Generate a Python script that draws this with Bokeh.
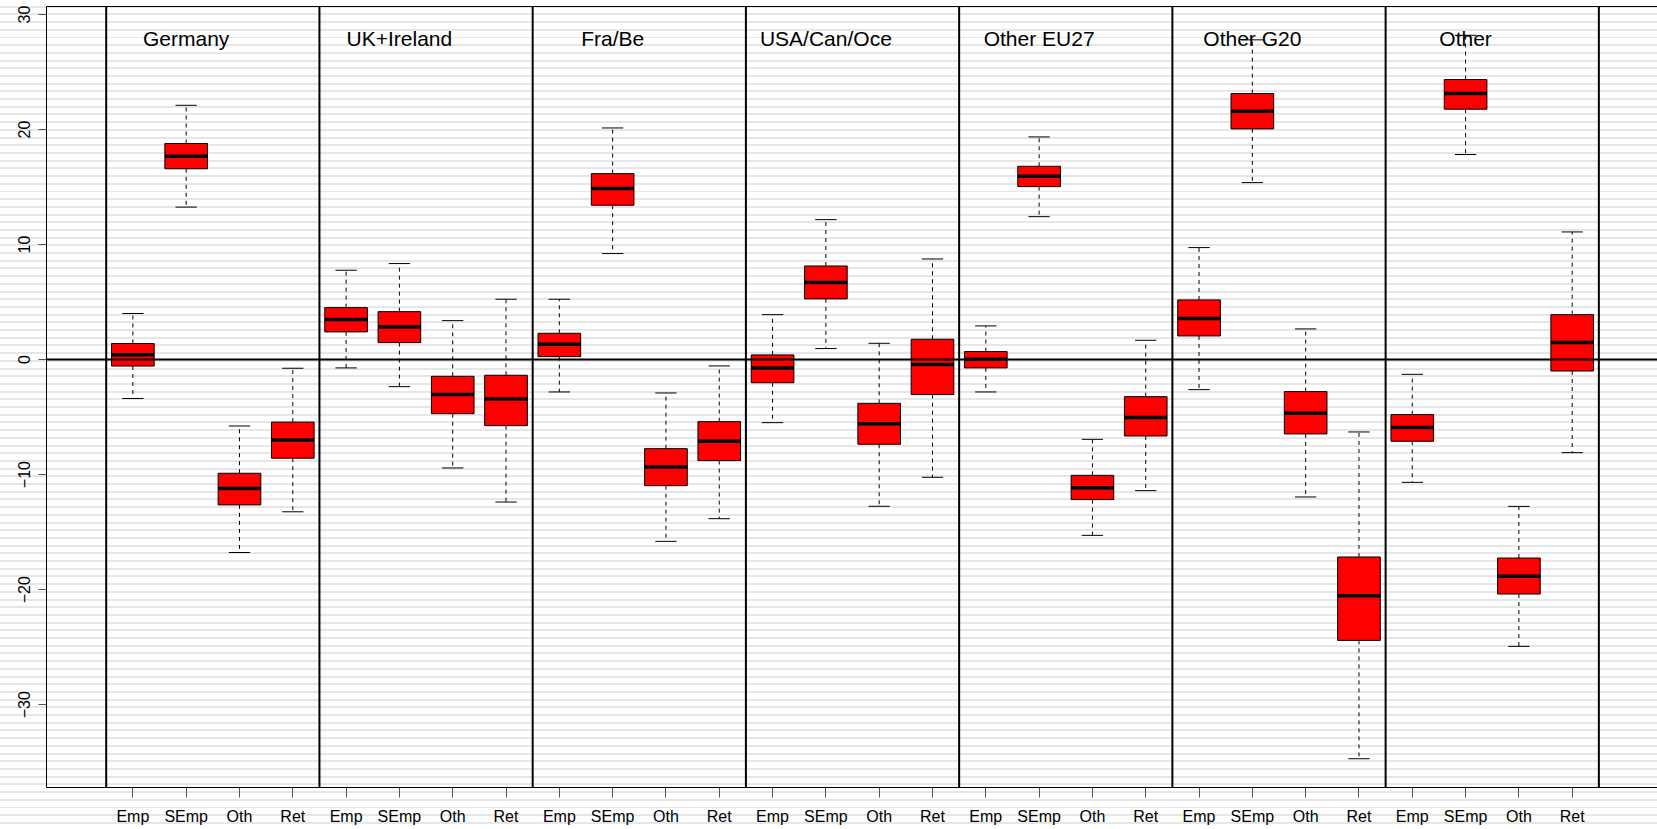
import numpy as np
from bokeh.plotting import figure
from bokeh.models import (ColumnDataSource, FixedTicker, LinearAxis, Range1d,
                          Span, InlineStyleSheet)
from bokeh.core.properties import value
from bokeh.embed import file_html
from bokeh.resources import INLINE

# Region groups and the four status categories inside each group
regions = ["Germany", "UK+Ireland", "Fra/Be", "USA/Can/Oce",
           "Other EU27", "Other G20", "Other"]
statuses = ["Emp", "SEmp", "Oth", "Ret"]

# Box statistics, ordered region by region, Emp/SEmp/Oth/Ret within each
whisker_low = [-3.38, 13.26, -16.77, -13.23,
               -0.72, -2.35, -9.42, -12.38,
               -2.81, 9.22, -15.80, -13.83,
               -5.48, 0.96, -12.75, -10.23,
               -2.81, 12.43, -15.28, -11.39,
               -2.61, 15.39, -11.94, -34.70,
               -10.67, 17.83, -24.93, -8.09]
quart_low = [-0.56, 16.59, -12.63, -8.57,
             2.41, 1.48, -4.70, -5.74,
             0.26, 13.42, -10.96, -8.78,
             -2.01, 5.28, -7.36, -3.04,
             -0.72, 15.04, -12.17, -6.64,
             2.06, 20.06, -6.46, -24.41,
             -7.10, 21.77, -20.38, -0.99]
median = [0.43, 17.67, -11.21, -6.98,
          3.48, 2.84, -3.04, -3.42,
          1.33, 14.87, -9.33, -7.10,
          -0.72, 6.70, -5.57, -0.43,
          0.03, 15.94, -11.13, -5.04,
          3.57, 21.59, -4.67, -20.53,
          -5.91, 23.13, -18.84, 1.48]
quart_high = [1.40, 18.79, -9.88, -5.43,
              4.52, 4.17, -1.45, -1.36,
              2.29, 16.17, -7.74, -5.39,
              0.41, 8.14, -3.80, 1.77,
              0.70, 16.81, -10.06, -3.22,
              5.19, 23.13, -2.78, -17.16,
              -4.78, 24.35, -17.25, 3.91]
whisker_high = [4.01, 22.11, -5.77, -0.75,
                7.77, 8.35, 3.39, 5.25,
                5.25, 20.14, -2.90, -0.55,
                3.91, 12.17, 1.42, 8.75,
                2.93, 19.36, -6.93, 1.68,
                9.74, 27.80, 2.67, -6.29,
                -1.28, 28.20, -12.76, 11.10]
y_ticks = [-30, -20, -10, 0, 10, 20, 30]

n_groups = len(regions)
n_cat = len(statuses)
pos = np.arange(1, n_groups * n_cat + 1)
box_w = 0.8
cap_w = 0.4

src = ColumnDataSource(dict(
    x=pos, lo=whisker_low, q1=quart_low, med=median, q3=quart_high, hi=whisker_high,
    box_l=pos - box_w / 2, box_r=pos + box_w / 2,
    cap_l=pos - cap_w / 2, cap_r=pos + cap_w / 2,
))

FONT = "Liberation Sans"

p = figure(width=1657, height=829,
           x_range=Range1d(-0.62, 29.6), y_range=Range1d(-37.2, 30.7),
           output_backend="svg", toolbar_location=None,
           min_border_left=46, min_border_right=0,
           min_border_top=6, min_border_bottom=42)
p.xgrid.visible = False
p.ygrid.visible = False
p.outline_line_color = None
p.background_fill_color = None
p.border_fill_color = None
# faint horizontal banding behind the whole chart
p.stylesheets = [InlineStyleSheet(css=(
    ":host { background: repeating-linear-gradient(to bottom, "
    "#ffffff 0px, #ffffff 5.7px, #e6e6e6 5.7px, #e6e6e6 7.7px); }"))]

# left axis
ya = p.yaxis[0]
ya.ticker = FixedTicker(ticks=y_ticks)
ya.major_label_orientation = "parallel"
ya.major_label_text_font = FONT
ya.major_label_text_font_size = "16px"
ya.major_label_text_color = "black"
ya.major_label_standoff = 8
ya.major_tick_out = 8
ya.major_tick_in = 0
ya.minor_tick_out = 0
ya.minor_tick_in = 0
ya.major_tick_line_color = "#555555"
ya.axis_line_color = "black"

# bottom axis: one tick per box, labelled with its status
xa = p.xaxis[0]
xa.ticker = FixedTicker(ticks=[int(v) for v in pos])
xa.major_label_overrides = {int(v): statuses[(int(v) - 1) % n_cat] for v in pos}
xa.major_label_text_font = FONT
xa.major_label_text_font_size = "16px"
xa.major_label_text_color = "black"
xa.major_label_standoff = 10
xa.major_tick_out = 10
xa.major_tick_in = 0
xa.minor_tick_out = 0
xa.minor_tick_in = 0
xa.major_tick_line_color = "#555555"
xa.axis_line_color = "black"

# plain top border line
top = LinearAxis(ticker=FixedTicker(ticks=[]), major_tick_out=0, major_tick_in=0,
                 minor_tick_out=0, minor_tick_in=0, major_label_standoff=0,
                 major_label_text_font_size="0px", axis_line_color="black")
p.add_layout(top, "above")

# region titles, centred over the second box of each group
p.text(x=[g * n_cat + 2 for g in range(n_groups)], y=[27.9] * n_groups, text=regions,
       text_font=value(FONT), text_font_size="21px", text_align="center",
       text_baseline="middle", text_color="black")

# whiskers
p.segment(x0="x", x1="x", y0="q3", y1="hi", source=src, line_color="black",
          line_width=1, line_dash="4 4")
p.segment(x0="x", x1="x", y0="q1", y1="lo", source=src, line_color="black",
          line_width=1, line_dash="4 4")
# whisker caps
p.segment(x0="cap_l", x1="cap_r", y0="hi", y1="hi", source=src, line_color="black", line_width=1)
p.segment(x0="cap_l", x1="cap_r", y0="lo", y1="lo", source=src, line_color="black", line_width=1)
# boxes
p.vbar(x="x", width=box_w, bottom="q1", top="q3", source=src,
       fill_color="#ff0000", line_color="black", line_width=1)
# medians
p.segment(x0="box_l", x1="box_r", y0="med", y1="med", source=src,
          line_color="black", line_width=3.5, line_cap="butt")

# group separators and zero reference line
for g in range(n_groups + 1):
    p.add_layout(Span(location=g * n_cat + 0.5, dimension="height",
                      line_color="black", line_width=2))
p.add_layout(Span(location=0, dimension="width", line_color="black", line_width=2))

open("out.html", "w").write(file_html(p, INLINE))
